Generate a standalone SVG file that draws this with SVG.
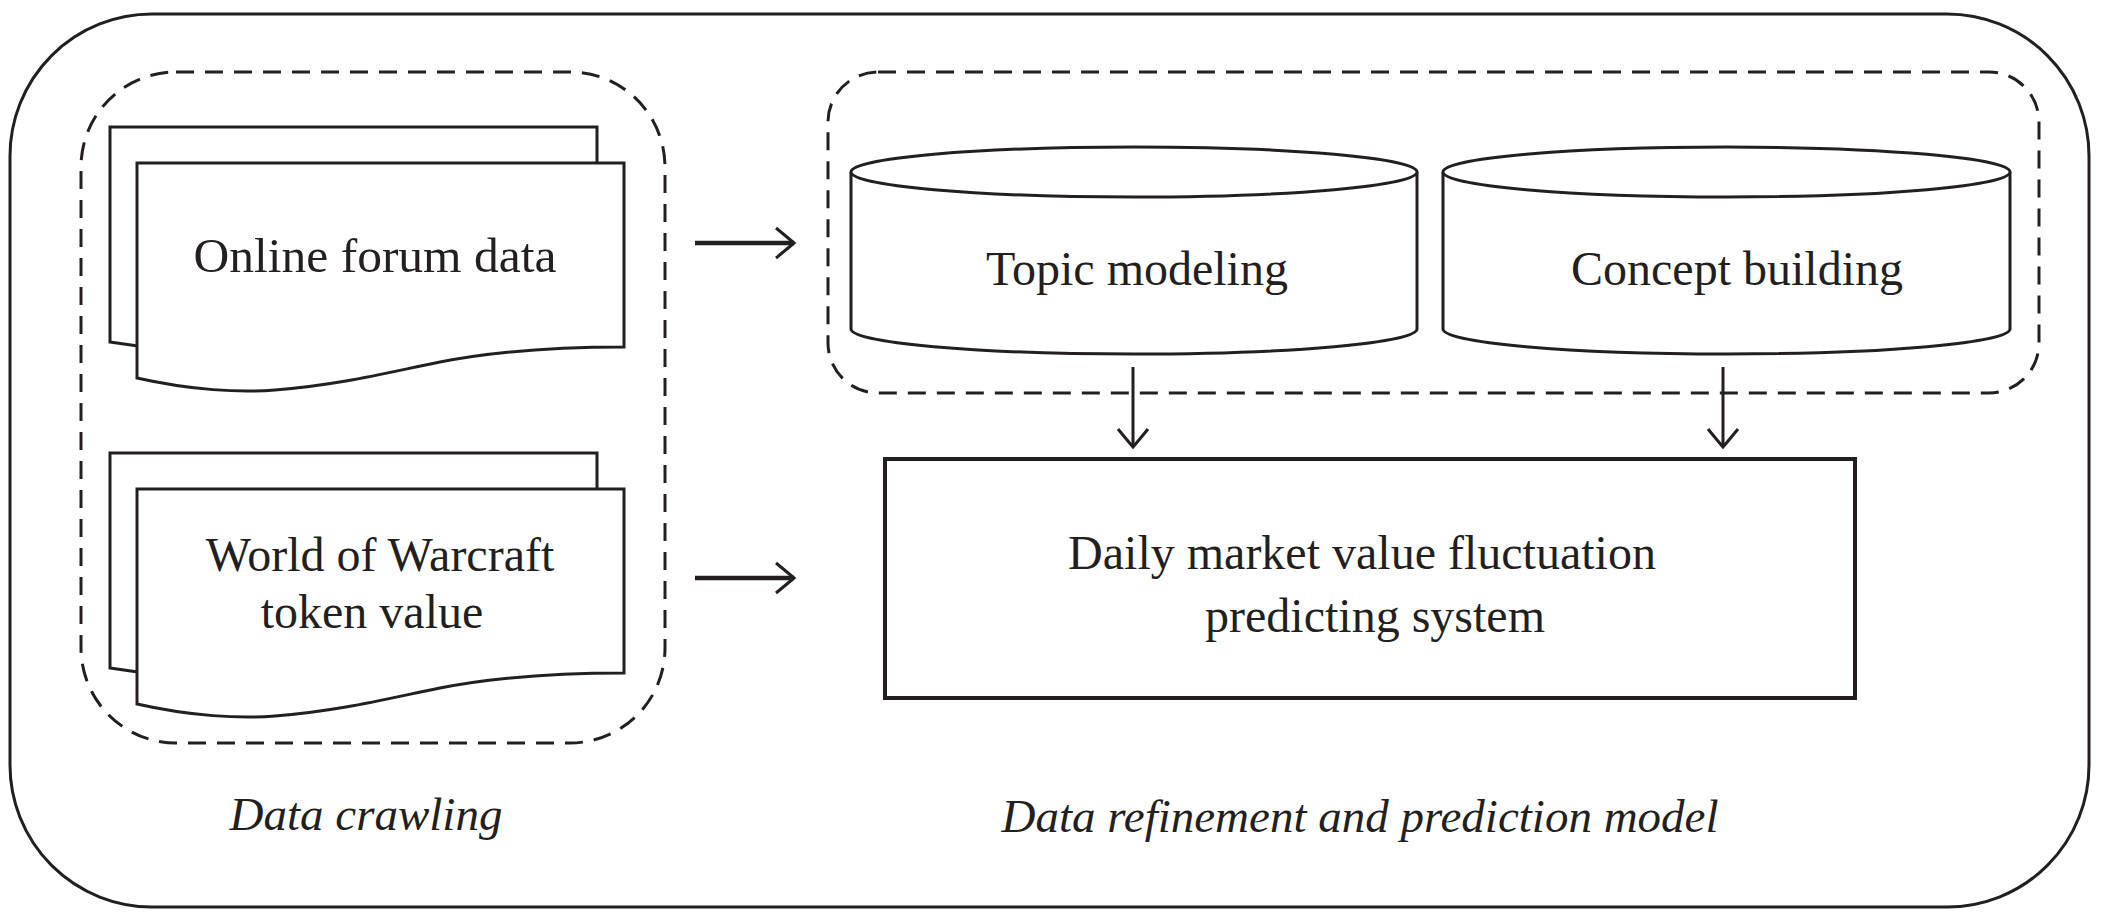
<svg xmlns="http://www.w3.org/2000/svg" width="2102" height="920" viewBox="0 0 2102 920">
  <style>
    .frame { fill: none; stroke: #231f20; stroke-width: 3; }
    .dash { fill: none; stroke: #231f20; stroke-width: 3; stroke-dasharray: 18 11; }
    .shape { fill: #ffffff; stroke: #231f20; stroke-width: 3; stroke-linejoin: miter; }
    .box { fill: #ffffff; stroke: #231f20; stroke-width: 4; }
    .lbl { font-family: "Liberation Serif", "Times New Roman", serif; font-size: 48px; fill: #231f20; text-anchor: middle; }
    .cap { font-family: "Liberation Serif", "Times New Roman", serif; font-size: 47px; font-style: italic; fill: #231f20; text-anchor: middle; }
    .conn { fill: none; stroke: #231f20; }
    .h { stroke-width: 4.5; }
    .v { stroke-width: 3; }
  </style>
  <defs>
    <marker id="ah" markerUnits="userSpaceOnUse" viewBox="0 0 24 36" markerWidth="24" markerHeight="36" refX="20" refY="18" orient="auto">
      <path d="M2,3 Q13,12 20,18 Q13,24 2,33" fill="none" stroke="#231f20" stroke-width="3"/>
    </marker>
  </defs>

  <rect id="outer-frame" class="frame" x="10" y="14" width="2079" height="893" rx="142" ry="142"/>

  <g id="group-data-crawling">
    <rect class="dash" x="81" y="72" width="584" height="671" rx="95" ry="95"/>
    <text class="cap" x="366" y="830">Data crawling</text>
  </g>

  <g id="group-refinement">
    <rect class="dash" x="828" y="72" width="1211" height="321" rx="50" ry="50"/>
    <text class="cap" x="1360" y="832">Data refinement and prediction model</text>
  </g>

  <g id="node-forum">
    <path class="shape" d="M110,127 H597 V311 C560,311 500,314 440,326 C390,336 340,349 275,354 C240,357 190,354 110,342 Z"/>
    <path class="shape" d="M137,163 H624 V347 C560,347 500,350 440,362 C390,372 340,385 275,390 C240,393 190,390 137,378 Z"/>
    <text class="lbl" x="375" y="272" style="font-size:49.5px">Online forum data</text>
  </g>

  <g id="node-wow">
    <path class="shape" d="M110,453 H597 V637 C560,637 500,640 440,652 C390,662 340,675 275,680 C240,683 190,680 110,668 Z"/>
    <path class="shape" d="M137,489 H624 V673 C560,673 500,676 440,688 C390,698 340,711 275,716 C240,719 190,716 137,704 Z"/>
    <text class="lbl" x="380" y="571">World of Warcraft</text>
    <text class="lbl" x="372" y="628">token value</text>
  </g>

  <g id="node-topic">
    <path class="shape" d="M851,172 V329 A283,25 0 0 0 1417,329 V172"/>
    <ellipse class="shape" cx="1134" cy="172" rx="283" ry="25"/>
    <text class="lbl" x="1137" y="285">Topic modeling</text>
  </g>

  <g id="node-concept">
    <path class="shape" d="M1443,172 V329 A283.5,25 0 0 0 2010,329 V172"/>
    <ellipse class="shape" cx="1726.5" cy="172" rx="283.5" ry="25"/>
    <text class="lbl" x="1737" y="285">Concept building</text>
  </g>

  <g id="node-system">
    <rect class="box" x="885" y="459" width="970" height="239"/>
    <text class="lbl" x="1362" y="569">Daily market value fluctuation</text>
    <text class="lbl" x="1375" y="632">predicting system</text>
  </g>

  <g id="connectors">
    <line class="conn h" x1="695" y1="243" x2="794" y2="243" marker-end="url(#ah)"/>
    <line class="conn h" x1="695" y1="578" x2="794" y2="578" marker-end="url(#ah)"/>
    <line class="conn v" x1="1133" y1="367" x2="1133" y2="447" marker-end="url(#ah)"/>
    <line class="conn v" x1="1723" y1="367" x2="1723" y2="447" marker-end="url(#ah)"/>
  </g>
</svg>
